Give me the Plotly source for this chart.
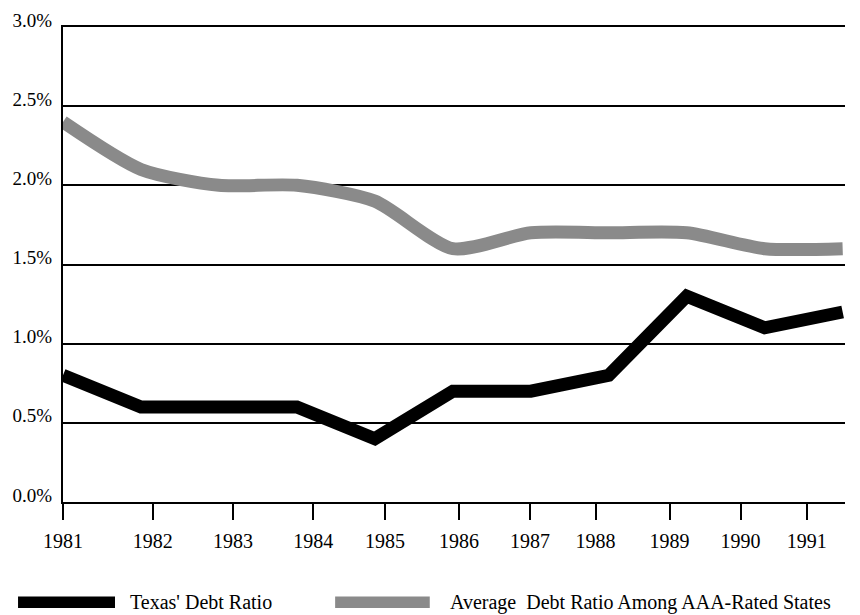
import plotly.graph_objects as go

years = [1981, 1982, 1983, 1984, 1985, 1986, 1987, 1988, 1989, 1990, 1991]
texas_ratio = [0.8, 0.6, 0.6, 0.6, 0.4, 0.7, 0.7, 0.8, 1.3, 1.1, 1.2]
aaa_ratio = [2.4, 2.1, 2.0, 2.0, 1.9, 1.6, 1.7, 1.7, 1.7, 1.6, 1.6]
year_labels = ["1981", "1982", "1983", "1984", "1985", "1986", "1987", "1988", "1989", "1990", "1991"]
y_ticks = [0.0, 0.5, 1.0, 1.5, 2.0, 2.5, 3.0]
y_labels = ["0.0%", "0.5%", "1.0%", "1.5%", "2.0%", "2.5%", "3.0%"]
series_names = ["Texas' Debt Ratio", "Average  Debt Ratio Among AAA-Rated States"]

# layout: where the original drew its (irregular) x tick marks, in year units
tick_positions = [1981.0, 1982.15, 1983.18, 1984.21, 1985.13, 1986.08,
                  1986.99, 1987.83, 1988.78, 1989.69, 1990.54]

FONT = "Liberation Serif"
GRAY = "#8a8a8a"

fig = go.Figure()
fig.add_trace(go.Scatter(x=years, y=aaa_ratio, mode="lines", name=series_names[1],
                         line=dict(color=GRAY, width=13, shape="spline", smoothing=0.7),
                         showlegend=False))
fig.add_trace(go.Scatter(x=years, y=texas_ratio, mode="lines", name=series_names[0],
                         line=dict(color="black", width=13),
                         showlegend=False))

# custom legend
fig.add_shape(type="rect", xref="paper", yref="paper", x0=-0.0575, x1=0.0665,
              y0=-0.223, y1=-0.199, fillcolor="black", line=dict(width=0))
fig.add_annotation(xref="paper", yref="paper", x=0.083, y=-0.211, xanchor="left",
                   yanchor="middle", text=series_names[0], showarrow=False,
                   font=dict(family=FONT, size=20, color="black"))
fig.add_shape(type="rect", xref="paper", yref="paper", x0=0.348, x1=0.469,
              y0=-0.223, y1=-0.199, fillcolor=GRAY, line=dict(width=0))
fig.add_annotation(xref="paper", yref="paper", x=0.492, y=-0.211, xanchor="left",
                   yanchor="middle", text=series_names[1], showarrow=False,
                   font=dict(family=FONT, size=20, color="black"))

fig.update_layout(
    width=852, height=607,
    margin=dict(l=55, r=15, t=19, b=113),
    paper_bgcolor="white", plot_bgcolor="white",
    font=dict(family=FONT, size=20, color="black"),
    xaxis=dict(range=[1981, 1991.03], tickmode="array", tickvals=tick_positions,
               ticktext=year_labels, ticks="outside", ticklen=16, tickwidth=2,
               tickcolor="black", showgrid=False, zeroline=False,
               showline=True, mirror=True, linecolor="black", linewidth=2,
               ticklabelstandoff=4, automargin=False, ticklabeloverflow="allow"),
    yaxis=dict(range=[0, 3.0], tickmode="array", tickvals=y_ticks, ticktext=y_labels,
               showgrid=True, gridcolor="black", gridwidth=2, zeroline=False,
               showline=True, linecolor="black", linewidth=2, ticks="",
               tickfont=dict(family=FONT, size=19),
               ticklabelstandoff=5, ticklabelshift=-7, automargin=False,
               ticklabeloverflow="allow"),
)

fig.write_html("out.html")
